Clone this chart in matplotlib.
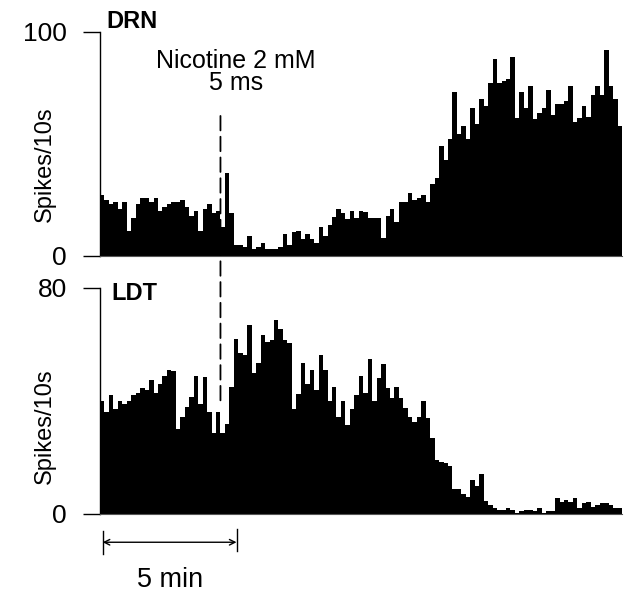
import matplotlib
matplotlib.use("Agg")
import matplotlib.pyplot as plt
from matplotlib.patches import ConnectionPatch
import numpy as np

plt.rcParams['font.family'] = ['Liberation Sans', 'DejaVu Sans']

# Spike counts per 10 s bin
drn_counts = [27, 25, 23, 24, 21, 24, 11, 17, 23, 26, 26, 24, 26, 20, 22, 23, 24, 24, 25, 22,
              18, 20, 11, 21, 23, 19, 20, 13, 37, 19, 5, 5, 4, 9, 3, 4, 6, 3,
              3,
              3, 4, 10, 5, 10.5, 11, 7.5, 10, 7.5, 6, 13, 9, 14, 17.5, 21, 19, 16.5, 20, 17, 20,
              19.5, 17, 17, 17, 8, 18, 21, 15, 24, 24, 28, 25, 26, 27, 24,
              32, 35, 49, 43, 52, 73, 54.5, 58, 52, 66, 59, 70, 67, 77, 88, 77, 78, 79, 89, 61.5,
              73, 66, 76, 61, 64, 66, 74, 63, 68, 68, 69, 76, 60, 61.5, 67, 62, 72, 76, 72, 92,
              76, 70, 58]
ldt_counts = [40, 36, 42, 37, 40, 39, 40, 42, 43, 44.5, 44, 47.5, 43, 46, 49, 51, 50.5, 30, 34.5, 38,
              41.5, 49, 39, 48.5, 36, 28.6, 36, 28.6, 32, 45, 62, 57, 56.4, 67, 50, 53.4, 63.5, 61,
              61.5, 68.5, 65.5, 61.7, 60.5, 37, 42.5, 53.4, 46, 51, 44, 56.4, 51, 40, 45, 34.5, 40,
              31.6, 37, 42, 49, 43, 55, 40, 48, 53, 44.5, 41, 45, 41, 37.5, 34.5, 32.4, 34.5, 40,
              34, 26.8, 19,
              18.3, 18, 17, 9, 9, 7, 6, 12, 10, 14, 4.5, 3.3, 2, 1.3, 1.3, 2, 1.3, 0.4, 1, 1.3,
              1.3, 1, 2, 0.5, 1, 1, 5.6, 4.3, 5, 4.3, 5.6, 2, 4, 4.2, 2.5, 3.3, 4, 4, 3.3, 2, 2]
panel_names = ["DRN", "LDT"]
y_max = [100, 80]
stim_bin = 27            # time of nicotine application (bin index)
scale_bins = 30          # 5 min = 30 bins of 10 s
stim_text = ["Nicotine 2 mM", "5 ms"]
y_label = "Spikes/10s"
scale_label = "5 min"

fig = plt.figure(figsize=(6.25, 6.03), dpi=100)
ax1 = fig.add_axes([0.16, 0.5755, 0.8352, 0.3715])
ax2 = fig.add_axes([0.16, 0.1476, 0.8352, 0.3748])

name_pos = [(0.012, 1.045), (0.022, 0.975)]
label_y = [0.41, 0.39]
for ax, counts, name, ym, lab_y, npos in zip([ax1, ax2], [drn_counts, ldt_counts], panel_names,
                                             y_max, label_y, name_pos):
    n = len(counts)
    edges = np.arange(n + 1)
    ax.stairs(counts, edges, fill=True, color='black', linewidth=0)
    ax.set_xlim(0, n)
    ax.set_ylim(0, ym)
    ax.set_yticks([0, ym])
    ax.set_yticklabels([str(0), str(ym)])
    ax.set_xticks([])
    for s in ['top', 'right']:
        ax.spines[s].set_visible(False)
    ax.spines['left'].set_linewidth(1.0)
    ax.spines['bottom'].set_linewidth(0.8)
    ax.spines['bottom'].set_color('#555555')
    ax.tick_params(axis='y', length=12, width=1.0, pad=12, labelsize=19, direction='out')
    ax.set_ylabel(y_label, fontsize=17)
    ax.yaxis.set_label_coords(-0.085, lab_y)
    ax.text(npos[0], npos[1], name, transform=ax.transAxes, fontsize=17, fontweight='bold',
            ha='left', va='center')

# stimulus annotation
ax1.text(stim_bin + 3.5, 84, stim_text[0], fontsize=18, ha='center', va='baseline')
ax1.text(stim_bin + 3.5, 74, stim_text[1], fontsize=18, ha='center', va='baseline')

con = ConnectionPatch(xyA=(stim_bin, 62.5), coordsA=ax1.transData,
                      xyB=(stim_bin, 39.5), coordsB=ax2.transData,
                      color='black', linewidth=1.3, linestyle=(0, (8, 3.5)))
fig.add_artist(con)

# 5 min scale bar below lower panel
trans = ax2.get_xaxis_transform()
x0, x1 = 0.6, 0.6 + scale_bins
yb = -0.125
ax2.annotate('', xy=(x0, yb), xytext=(x1, yb), xycoords=trans, textcoords=trans,
             arrowprops=dict(arrowstyle='<->', color='black', lw=1.0, shrinkA=0, shrinkB=0,
                             mutation_scale=10), annotation_clip=False)
ax2.plot([x0, x0], [yb - 0.05, yb + 0.05], transform=trans, color='black', lw=1.0, clip_on=False)
ax2.plot([x1, x1], [yb - 0.04, yb + 0.06], transform=trans, color='black', lw=1.0, clip_on=False)
ax2.text((x0 + x1) / 2, -0.29, scale_label, transform=trans, fontsize=19.5, ha='center', va='center')

fig.savefig("out.png", dpi=100)
